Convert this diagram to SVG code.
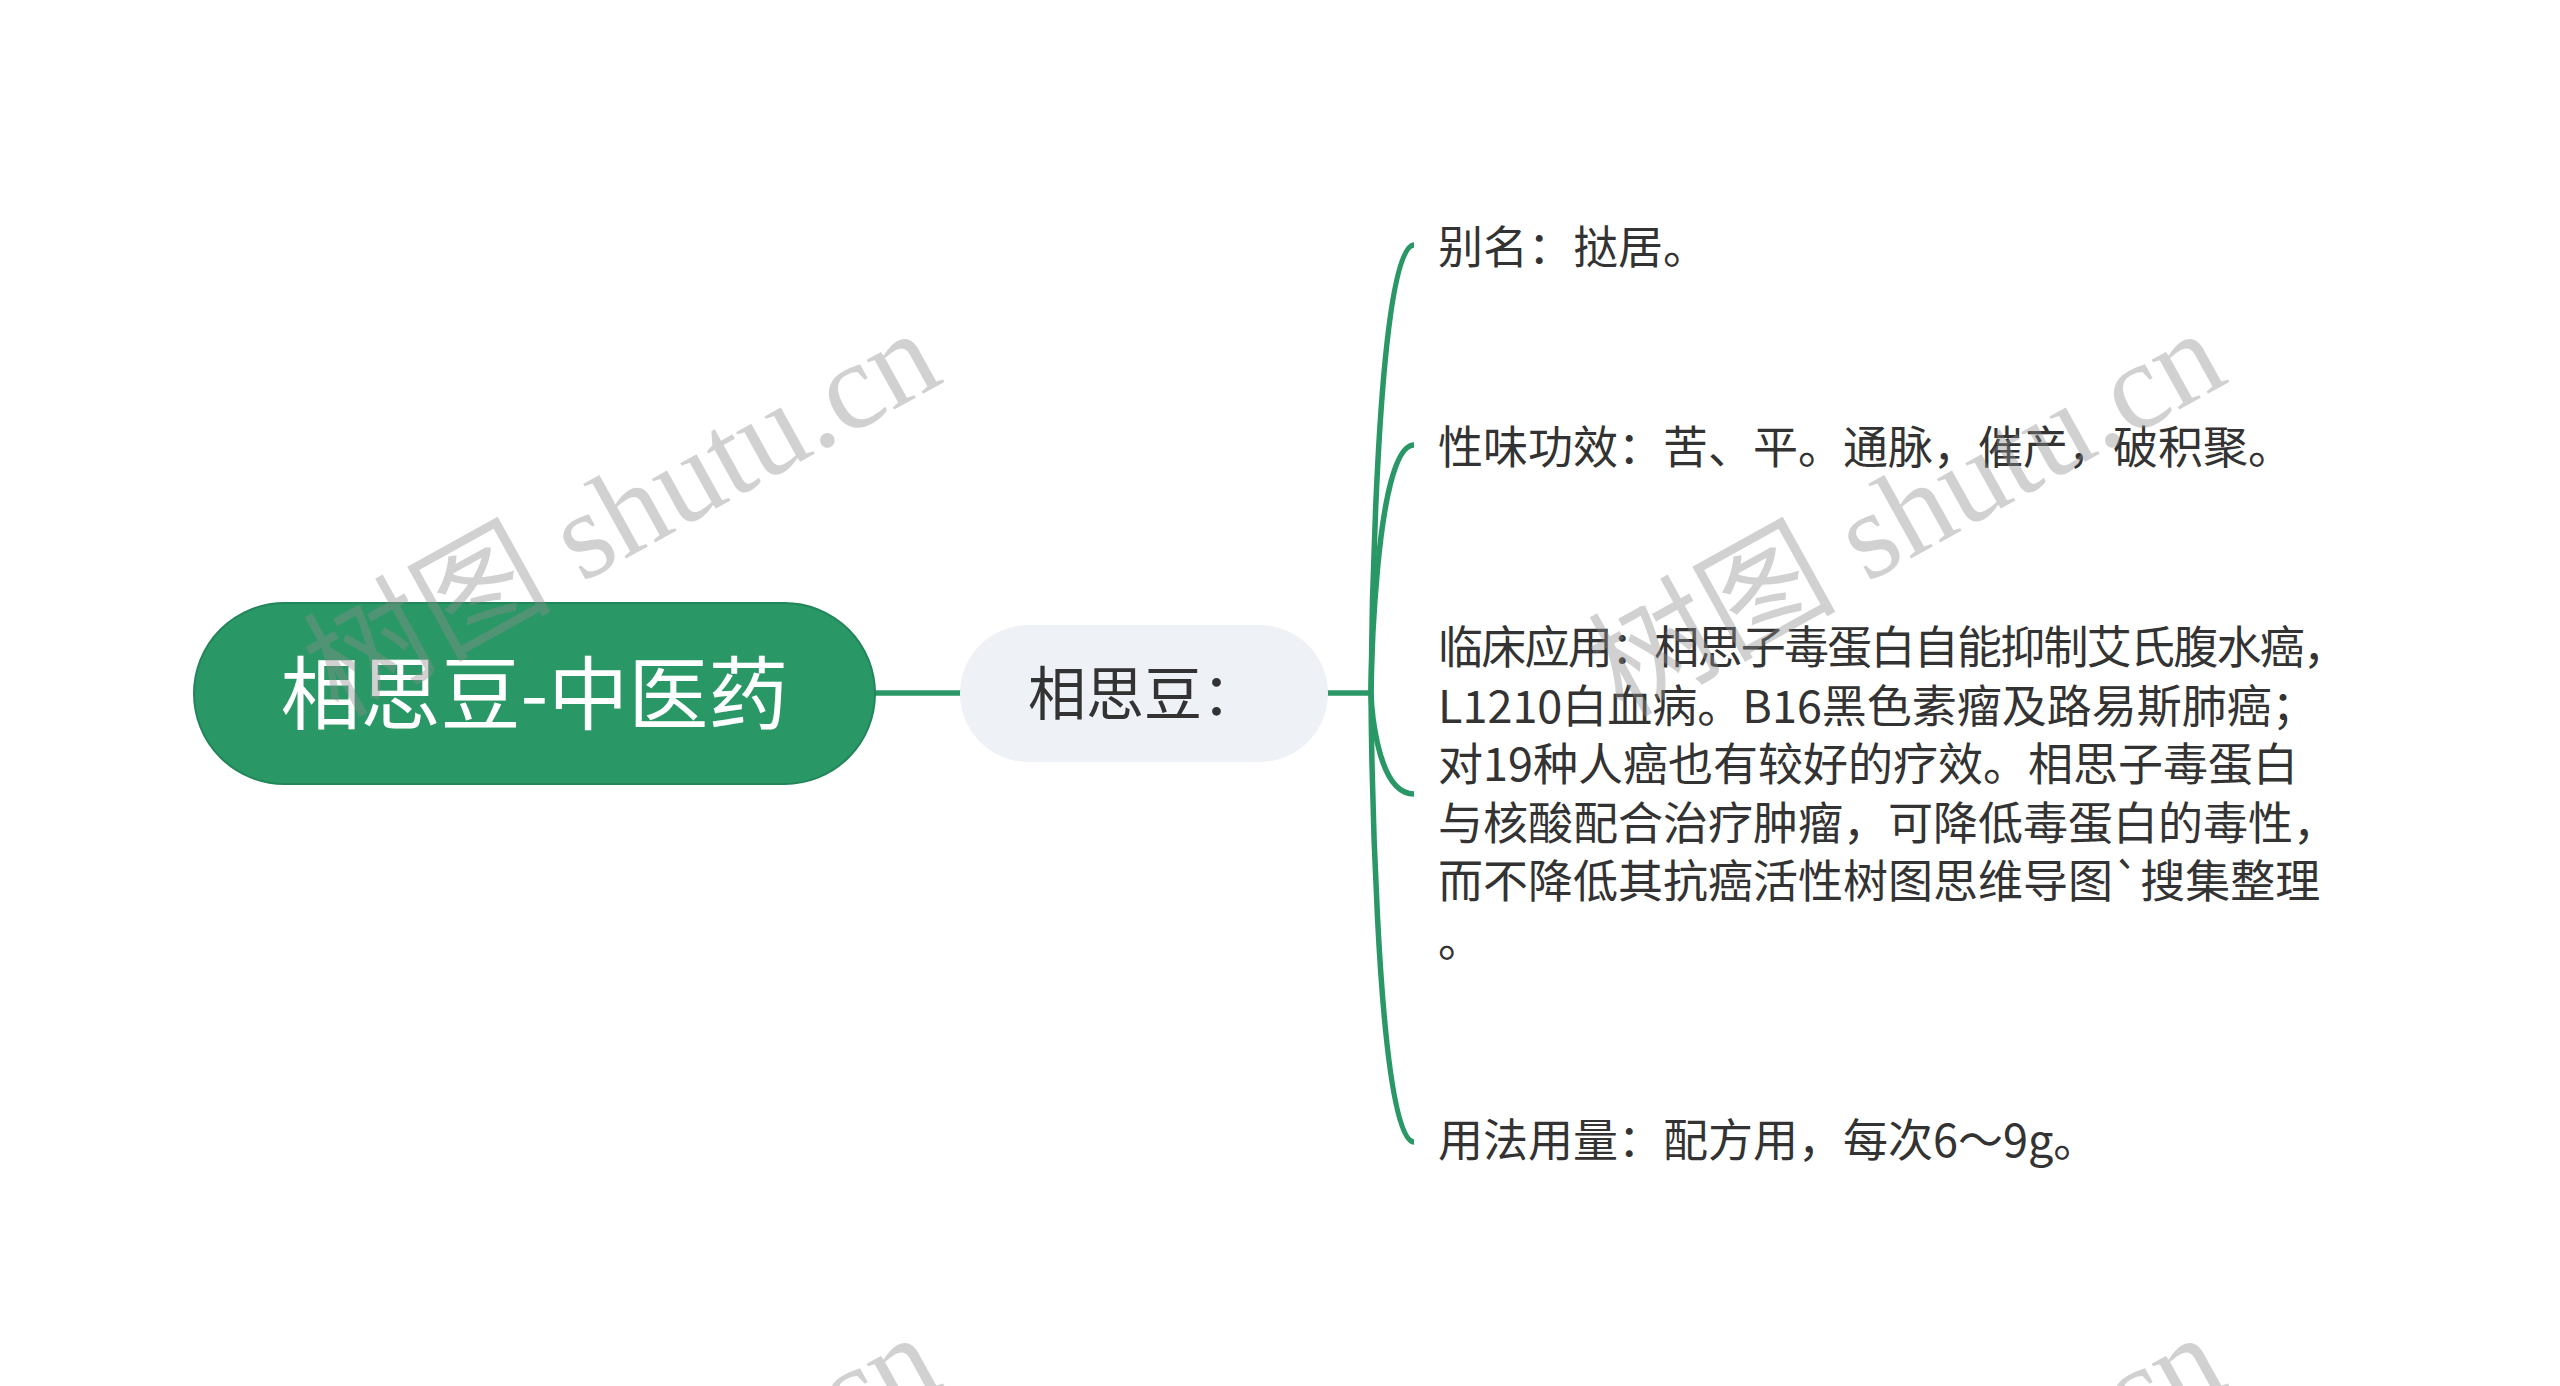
<svg xmlns="http://www.w3.org/2000/svg" width="2560" height="1386" viewBox="0 0 2560 1386">
  <style>
    .cjk { font-family: "Noto Sans CJK SC", "Noto Sans", sans-serif; }
    .child { font-size: 45px; fill: #333333; }
    .link { fill: none; stroke: #2a9866; stroke-width: 5.5; stroke-linecap: butt; }
    .wm { font-family: "Liberation Serif", "Noto Sans CJK SC", serif; font-size: 124px; fill: #8c8c8c; fill-opacity: 0.4; }
  </style>
  <defs>
    <text id="wm" class="wm" text-anchor="end" transform="rotate(-29)">树图 shutu.cn</text>
  </defs>
  <rect x="0" y="0" width="2560" height="1386" fill="#ffffff"/>

  <g id="connectors">
    <line class="link" x1="873" y1="693" x2="962" y2="693" stroke-width="6"/>
    <line class="link" x1="1326" y1="693" x2="1371" y2="693" stroke-width="6"/>
    <path class="link" d="M1371,693 C1371,693 1374,245 1414,245"/>
    <path class="link" d="M1371,693 C1371,693 1374,445 1414,445"/>
    <path class="link" d="M1371,693 C1371,693 1374,794 1414,794"/>
    <path class="link" d="M1371,693 C1371,693 1374,1142 1414,1142"/>
  </g>

  <g id="node-root">
    <rect x="194" y="603" width="681" height="181" rx="90.5" ry="90.5" fill="#2a9866" stroke="#23855a" stroke-width="2"/>
    <text class="cjk" x="534.5" y="723" font-size="80" fill="#ffffff" text-anchor="middle">相思豆-中医药</text>
  </g>

  <g id="node-main">
    <rect x="960" y="625" width="368" height="137" rx="68.5" ry="68.5" fill="#eef1f5"/>
    <text class="cjk" x="1144" y="715" font-size="58" fill="#333333" text-anchor="middle">相思豆：</text>
  </g>

  <g id="node-alias">
    <text class="cjk child" x="1438" y="264">别名：挞居。</text>
  </g>

  <g id="node-nature">
    <text class="cjk child" x="1438" y="464">性味功效：苦、平。通脉，催产，破积聚。</text>
  </g>

  <g id="node-clinical">
    <text class="cjk child">
      <tspan x="1438" y="664" textLength="910" lengthAdjust="spacing">临床应用：相思子毒蛋白自能抑制艾氏腹水癌，</tspan>
      <tspan x="1438" y="722.5">L1210白血病。B16黑色素瘤及路易斯肺癌；</tspan>
      <tspan x="1438" y="781">对19种人癌也有较好的疗效。相思子毒蛋白</tspan>
      <tspan x="1438" y="839.5">与核酸配合治疗肿瘤，可降低毒蛋白的毒性，</tspan>
      <tspan x="1438" y="898">而不降低其抗癌活性树图思维导图`搜集整理</tspan>
      <tspan x="1438" y="956.5">。</tspan>
    </text>
  </g>

  <g id="node-usage">
    <text class="cjk child" x="1438" y="1157">用法用量：配方用，每次6～9g。</text>
  </g>

  <g id="watermarks">
    <use href="#wm" transform="translate(946,381)"/>
    <use href="#wm" transform="translate(2231,381)"/>
    <use href="#wm" transform="translate(946,1385)"/>
    <use href="#wm" transform="translate(2231,1385)"/>
  </g>
</svg>
